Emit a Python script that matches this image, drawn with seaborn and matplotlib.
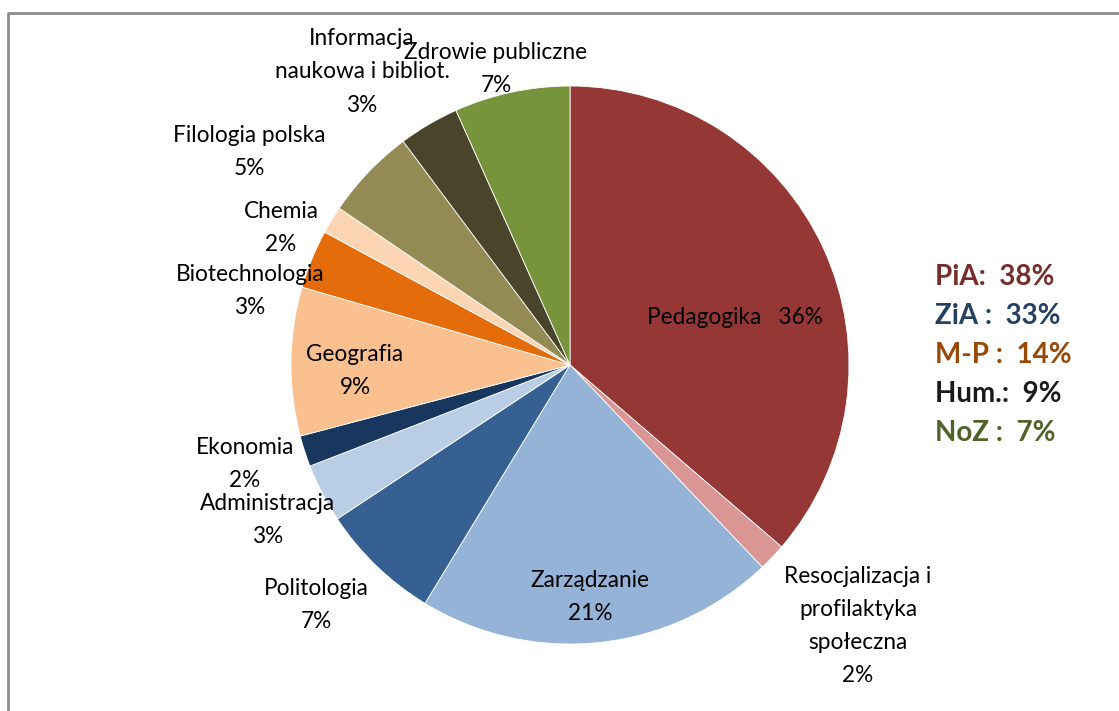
import matplotlib
matplotlib.use('Agg')
import matplotlib.pyplot as plt
import seaborn as sns

# slices, clockwise from 12 o'clock
kierunki = ['Pedagogika', 'Resocjalizacja i\nprofilaktyka\nspołeczna', 'Zarządzanie',
            'Politologia', 'Administracja', 'Ekonomia', 'Geografia', 'Biotechnologia',
            'Chemia', 'Filologia polska', 'Informacja\nnaukowa i bibliot.', 'Zdrowie publiczne']
udzial = [36.3, 1.6, 20.8, 7.0, 3.4, 1.8, 8.6, 3.4, 1.6, 5.3, 3.5, 6.7]
procent_txt = ['36%', '2%', '21%', '7%', '3%', '2%', '9%', '3%', '2%', '5%', '3%', '7%']
kolory = ['#953735', '#D99694', '#95B3D7', '#376092', '#B9CDE5', '#17375E',
          '#FAC090', '#E46C0A', '#FCD5B5', '#948A54', '#4A452A', '#77933C']

grupy = ['PiA:  38%', 'ZiA :  33%', 'M-P :  14%', 'Hum.:  9%', 'NoZ :  7%']
grupy_kolory = ['#772C2A', '#254061', '#984807', '#1A1A1A', '#4F6228']

# label anchor points (pixels from top-left)
label_xy = [(735, 318), (858, 626), (590, 597), (316, 605), (268, 520), (245, 464),
            (355, 371), (250, 291), (281, 228), (249, 152), (362, 72), (496, 69)]

sns.set_theme(style='white')
plt.rcParams['font.family'] = ['Lato', 'DejaVu Sans']

W, H = 1119, 711
fig = plt.figure(figsize=(W / 100, H / 100), dpi=100)
ax = fig.add_axes([0, 0, 1, 1])

pal = sns.color_palette(kolory)
ax.pie(udzial, colors=pal, startangle=90, counterclock=False,
       center=(570, H - 365), radius=279, frame=True,
       wedgeprops=dict(edgecolor='white', linewidth=0.6))
ax.set_xlim(0, W)
ax.set_ylim(0, H)
ax.set_aspect('equal')
ax.axis('off')

for i, (name, pct) in enumerate(zip(kierunki, procent_txt)):
    x, y = label_xy[i]
    if i == 0:
        txt = name + '   ' + pct
    else:
        txt = name + '\n' + pct
    ax.text(x, H - y, txt, ha='center', va='center', fontsize=16.3,
            color='black', linespacing=1.72)

for j, (g, c) in enumerate(zip(grupy, grupy_kolory)):
    ax.text(935, H - (277 + 39 * j), g, ha='left', va='center', fontsize=20,
            fontweight='bold', color=c)

# chart frame
ax.plot([8, 8, W], [0, H - 13, H - 13], color='#8C8C8C', lw=2, clip_on=False)

fig.savefig('out.png', dpi=100)
plt.close()
